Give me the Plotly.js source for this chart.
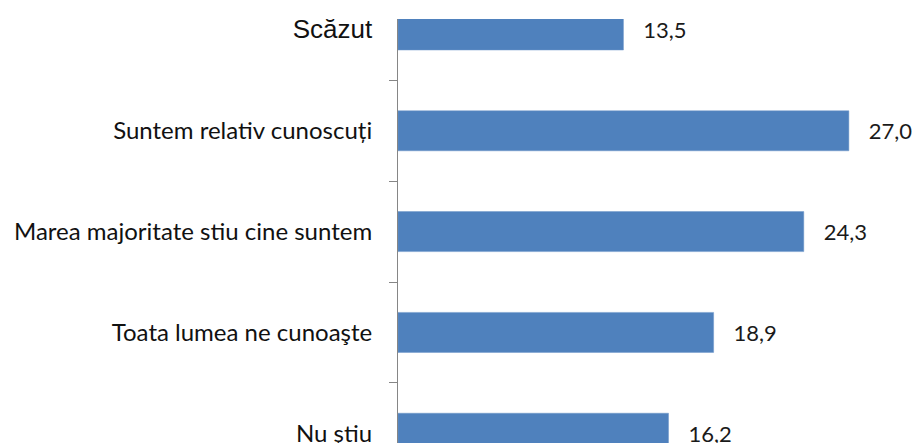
<!DOCTYPE html>
<html>
<head>
<meta charset="utf-8">
<script src="https://cdn.plot.ly/plotly-3.0.1.min.js"></script>
<style>html,body{margin:0;padding:0;background:#fff;}#chart{width:915px;height:443px;}</style>
</head>
<body>
<div id="chart"></div>
<script>
const categories = ["Scăzut", "Suntem relativ cunoscuți", "Marea majoritate stiu cine suntem", "Toata lumea ne cunoaşte", "Nu ştiu"];
const values = [13.5, 27.0, 24.3, 18.9, 16.2];
const valueLabels = ["13,5", "27,0", "24,3", "18,9", "16,2"];
const tickLabels = [
  '<span style="font-family:\'Liberation Sans\', Arial; font-size:26px">Scăzut</span>',
  "Suntem relativ cunoscuți",
  "Marea majoritate stiu cine suntem",
  "Toata lumea ne cunoaşte",
  "Nu ştiu"
];

const pad = "\u00a0\u00a0\u00a0";
const trace = {
  type: "bar",
  orientation: "h",
  y: categories,
  x: values,
  width: 0.397,
  marker: {color: "#4F81BD", line: {color: "#6f96c8", width: 0.5}},
  text: valueLabels.map(v => pad + v),
  textposition: "outside",
  cliponaxis: false,
  textfont: {family: "Lato, Carlito, Calibri, sans-serif", size: 22, color: "#1a1a1a"},
  hoverinfo: "none"
};

const layout = {
  width: 915, height: 443,
  margin: {l: 398, r: 0, t: 19, b: 0, pad: 0},
  paper_bgcolor: "#ffffff",
  plot_bgcolor: "#ffffff",
  showlegend: false,
  font: {family: "Lato, Carlito, Calibri, sans-serif", size: 24, color: "#111111"},
  xaxis: {
    range: [0, 30.96],
    visible: false,
    showgrid: false,
    zeroline: false,
    fixedrange: true
  },
  yaxis: {
    type: "category",
    range: [4.097, -0.109],
    tickmode: "array",
    tickvals: categories,
    ticktext: tickLabels,
    tickson: "boundaries",
    ticks: "outside",
    ticklen: 8,
    tickcolor: "#868686",
    tickwidth: 1,
    ticklabelstandoff: 20,
    showline: true,
    linecolor: "#868686",
    linewidth: 1,
    showgrid: false,
    zeroline: false,
    fixedrange: true
  }
};

Plotly.newPlot("chart", [trace], layout, {displayModeBar: false, staticPlot: true});
</script>
</body>
</html>
